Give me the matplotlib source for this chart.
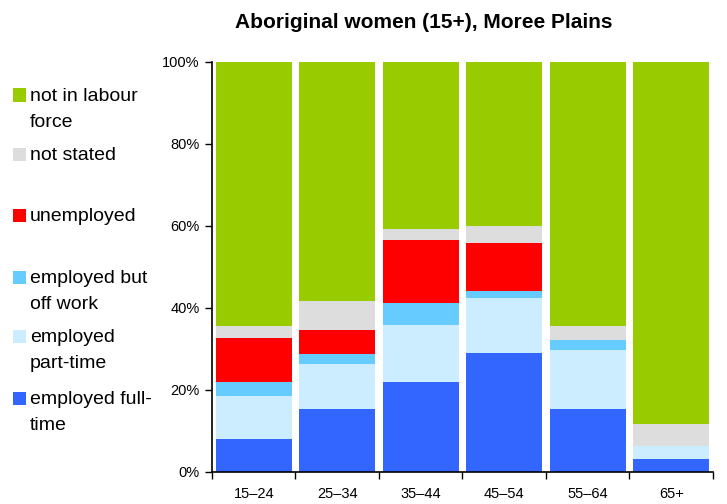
import numpy as np
import matplotlib
matplotlib.use('Agg')
import matplotlib.pyplot as plt
from matplotlib.patches import Rectangle

plt.rcParams['font.family'] = ['Liberation Sans', 'DejaVu Sans']

ages = ['15–24', '25–34', '35–44', '45–54', '55–64', '65+']

# shares in % (bottom to top)
full_time = [8.0, 15.4, 22.0, 29.0, 15.4, 3.2]
part_time = [10.6, 11.0, 13.9, 13.5, 14.4, 3.2]
off_work = [3.4, 2.5, 5.2, 1.6, 2.3, 0.0]
unemployed = [10.6, 5.7, 15.6, 11.8, 0.0, 0.0]
not_stated = [3.0, 7.1, 2.6, 4.1, 3.5, 5.4]
not_in_lf = [100 - a - b - c - d - e for a, b, c, d, e in
             zip(full_time, part_time, off_work, unemployed, not_stated)]

series = [full_time, part_time, off_work, unemployed, not_stated, not_in_lf]
colors = ['#3366FF', '#CCECFF', '#66CCFF', '#FF0000', '#DDDDDD', '#99CC00']
labels = ['employed full-\ntime', 'employed\npart-time', 'employed but\noff work',
          'unemployed', 'not stated', 'not in labour\nforce']

fig = plt.figure(figsize=(7.27, 5.04), dpi=100)
ax = fig.add_axes([0.2916, 0.0635, 0.6891, 0.8135])

x = np.arange(len(ages))
bottom = np.zeros(len(ages))
for vals, col in zip(series, colors):
    v = np.array(vals) / 100
    ax.bar(x, v, 0.915, bottom=bottom, color=col, linewidth=0)
    bottom += v

ax.set_xlim(-0.5, len(ages) - 0.5)
ax.set_ylim(0, 1)
ax.set_yticks(np.linspace(0, 1, 6))
ax.set_yticklabels(['%d%%' % (t * 100) for t in np.linspace(0, 1, 6)], fontsize=10.5)
ax.set_xticks(x)
ax.set_xticklabels(ages, fontsize=10.5)
ax.set_xticks(np.arange(-0.5, len(ages)), minor=True)
ax.tick_params(axis='x', which='major', length=0, pad=11)
ax.tick_params(axis='x', which='minor', length=5, width=1)
ax.tick_params(axis='y', length=5, width=1, pad=4)
for s in ['top', 'right']:
    ax.spines[s].set_visible(False)
ax.spines['left'].set_linewidth(1.2)
ax.spines['bottom'].set_linewidth(1.2)

fig.text(0.583, 0.956, 'Aboriginal women (15+), Moree Plains', ha='center', va='center',
         fontsize=15, fontweight='bold')

# legend drawn by hand (uneven spacing in the original)
W, H = 727.0, 504.0
leg_y = [398, 336, 277, 215, 154, 95]
for yy, col, lab in zip(leg_y, colors, labels):
    fig.patches.append(Rectangle((13 / W, 1 - (yy + 6.5) / H), 13 / W, 13 / H,
                                 transform=fig.transFigure, color=col, linewidth=0))
    fig.text(30 / W, 1 - (yy - 7) / H, lab, ha='left', va='top', fontsize=14,
             linespacing=1.72)

fig.savefig('out.png', dpi=100)
